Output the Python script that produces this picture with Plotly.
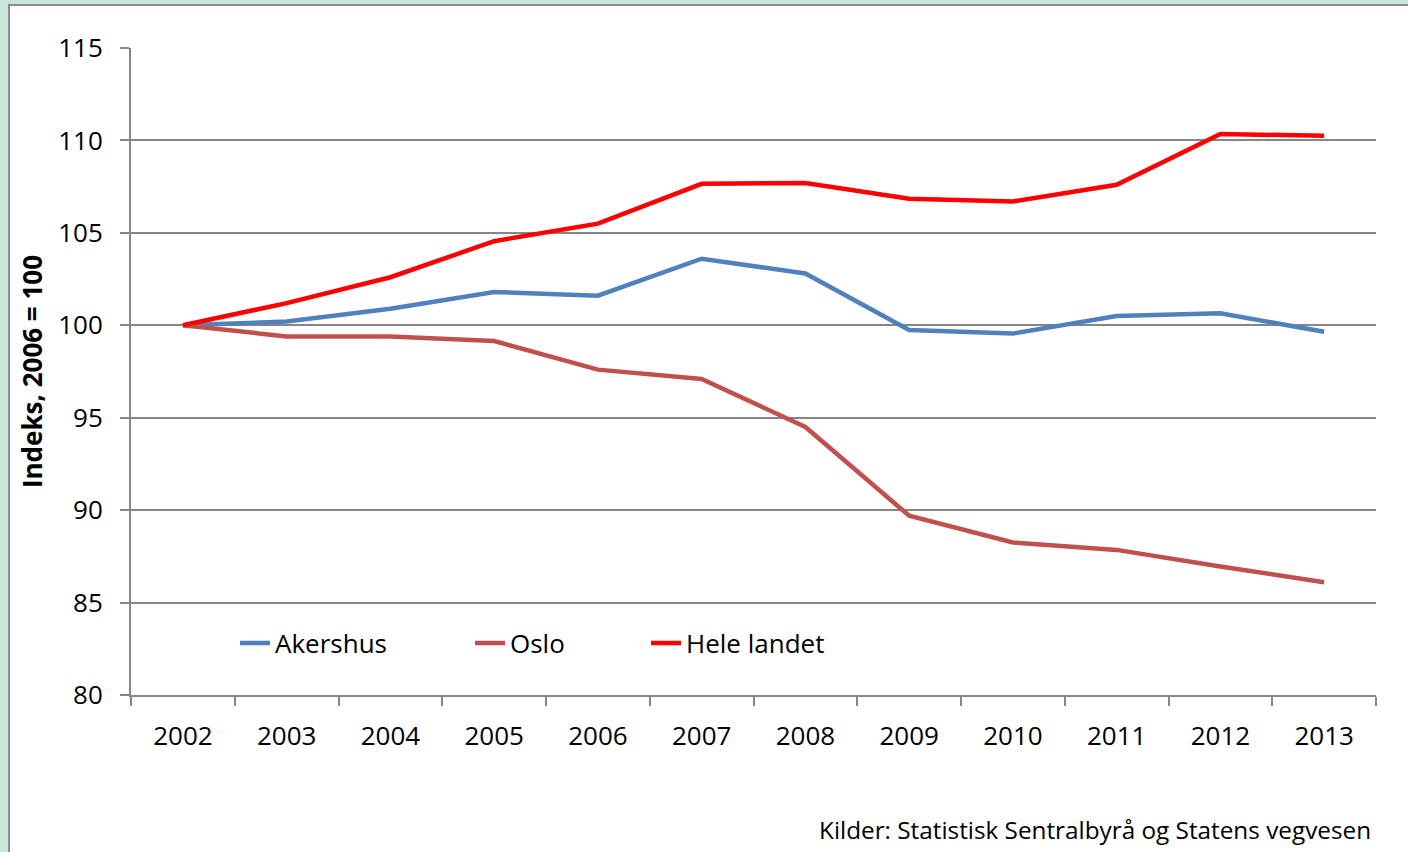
import plotly.graph_objects as go

years = ["2002", "2003", "2004", "2005", "2006", "2007", "2008", "2009", "2010", "2011", "2012", "2013"]
akershus = [100, 100.2, 100.9, 101.8, 101.6, 103.6, 102.8, 99.75, 99.55, 100.5, 100.65, 99.65]
oslo = [100, 99.4, 99.4, 99.15, 97.6, 97.1, 94.5, 89.7, 88.25, 87.85, 86.95, 86.1]
hele_landet = [100, 101.2, 102.6, 104.55, 105.5, 107.65, 107.7, 106.85, 106.7, 107.6, 110.35, 110.25]

y_ticks = [80, 85, 90, 95, 100, 105, 110, 115]
source_text = "Kilder: Statistisk Sentralbyrå og Statens vegvesen"
y_title = "Indeks, 2006 = 100"

FONT = "Open Sans"
W, H = 1408, 852
L, R, T, B = 131, 32, 48, 157
pw, ph = W - L - R, H - T - B

def px_x(x):
    return (x - L) / pw

def px_y(y):
    return (H - B - y) / ph

fig = go.Figure()
series = [
    ("Akershus", akershus, "#4F81BD", "legend"),
    ("Oslo", oslo, "#C0504D", "legend2"),
    ("Hele landet", hele_landet, "#FF0000", "legend3"),
]
for name, vals, col, lg in series:
    fig.add_trace(go.Scatter(
        x=years, y=vals, name=name, mode="lines",
        line=dict(color=col, width=4.5),
        legend=lg,
    ))

leg_common = dict(orientation="h", bgcolor="rgba(0,0,0,0)", borderwidth=0,
                  font=dict(family=FONT, size=26, color="#000000"),
                  xanchor="left", yanchor="middle", y=px_y(643))

fig.update_layout(
    width=W, height=H,
    margin=dict(l=L, r=R, t=T, b=B, pad=0),
    paper_bgcolor="#C9E6D8",
    plot_bgcolor="rgba(0,0,0,0)",
    font=dict(family=FONT, size=26, color="#000000"),
    showlegend=True,
    legend=dict(x=px_x(235), **leg_common),
    legend2=dict(x=px_x(470), **leg_common),
    legend3=dict(x=px_x(646), **leg_common),
    xaxis=dict(
        type="category", categoryorder="array", categoryarray=years,
        tickson="boundaries", ticks="outside", ticklen=9, tickwidth=1.5,
        tickcolor="#868686", showline=True, linecolor="#868686", linewidth=2,
        showgrid=False, zeroline=False,
        tickfont=dict(family=FONT, size=26, color="#000000"),
        ticklabelstandoff=17,
        range=[-0.5, 11.5],
    ),
    yaxis=dict(
        range=[80, 115], tickvals=y_ticks, ticktext=[str(v) for v in y_ticks],
        ticks="outside", ticklen=9, tickwidth=1.5, tickcolor="#868686",
        showline=True, linecolor="#868686", linewidth=2,
        showgrid=True, gridcolor="#868686", gridwidth=1.5, zeroline=False,
        tickfont=dict(family=FONT, size=26, color="#000000"),
        ticklabelstandoff=12,
        title=dict(text="<b>" + y_title + "</b>", font=dict(family=FONT, size=26, color="#000000"), standoff=8),
    ),
    shapes=[
        dict(type="rect", xref="paper", yref="paper", layer="below",
             x0=px_x(9), x1=px_x(W + 20), y0=px_y(H + 20), y1=px_y(5),
             fillcolor="#FFFFFF", line=dict(color="#8C8C8C", width=2)),
    ],
    annotations=[
        dict(text=source_text, xref="paper", yref="paper", x=px_x(1373), y=px_y(829),
             xanchor="right", yanchor="middle", showarrow=False,
             font=dict(family=FONT, size=24.3, color="#000000")),
    ],
)

fig.write_html("out.html", config={"displayModeBar": False},
               post_script="document.body.style.margin='0px';document.body.style.overflow='hidden';")
